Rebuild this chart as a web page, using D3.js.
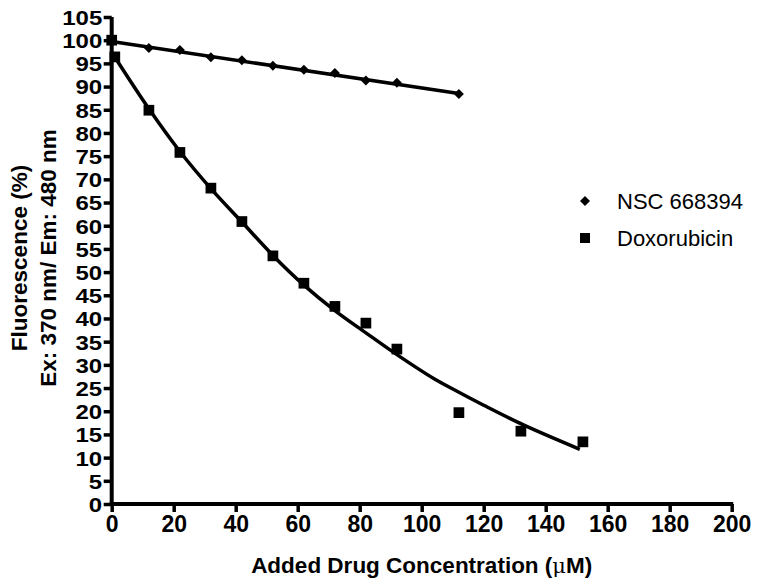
<!DOCTYPE html>
<html>
<head>
<meta charset="utf-8">
<script src="https://cdn.jsdelivr.net/npm/d3@7/dist/d3.min.js"></script>
<style>
  html, body { margin: 0; padding: 0; background: #fff; }
  svg { display: block; }
  text { font-family: "Liberation Sans", Arial, Helvetica, sans-serif; fill: #000; }
</style>
</head>
<body>
<svg id="chart" width="762" height="588"></svg>
<script>
// ---- Data ----
const seriesNames = ["NSC 668394", "Doxorubicin"];

const nscX = [0, 12, 22, 32, 42, 52, 62, 72, 82, 92, 112];
const nscY = [99.9, 98.3, 97.9, 96.3, 95.7, 94.5, 93.6, 92.9, 91.3, 90.8, 88.4];

const doxX = [0, 1, 12, 22, 32, 42, 52, 62, 72, 82, 92, 112, 132, 152];
const doxY = [100, 96.4, 84.9, 75.8, 68.1, 60.9, 53.5, 47.6, 42.6, 39.0, 33.4, 19.7, 15.7, 13.4];

// fitted curves as drawn in the reference
const nscFitX = [0, 112];
const nscFitY = [99.7, 88.5];
const doxFitX = [0, 12, 22, 32, 42, 52, 62, 72, 82, 92, 104, 112, 120, 133, 151];
const doxFitY = [97.4, 85.2, 76.0, 68.0, 60.8, 53.6, 47.2, 41.7, 36.9, 32.2, 27.0, 24.1, 21.3, 17.0, 11.8];

const xTicks = [0, 20, 40, 60, 80, 100, 120, 140, 160, 180, 200];
const yTicks = [0, 5, 10, 15, 20, 25, 30, 35, 40, 45, 50, 55, 60, 65, 70, 75, 80, 85, 90, 95, 100, 105];

const xTitle = "Added Drug Concentration (";
const xTitleUnit = "\u03BC";
const xTitleEnd = "M)";
const yTitle1 = "Fluorescence (%)";
const yTitle2 = "Ex: 370 nm/ Em: 480 nm";

// ---- Drawing ----
const svg = d3.select("#chart");
const x = d3.scaleLinear().domain([0, 200]).range([111.7, 731.7]);
const y = d3.scaleLinear().domain([0, 105]).range([504, 17]);

// Y axis
const yAxis = svg.append("g")
  .attr("transform", `translate(${x(0)},0)`)
  .call(d3.axisLeft(y).tickValues(yTicks).tickSize(8).tickPadding(1).tickSizeOuter(0));
// X axis
const xAxis = svg.append("g")
  .attr("transform", `translate(0,${y(0)})`)
  .call(d3.axisBottom(x).tickValues(xTicks).tickSize(8).tickPadding(4).tickSizeOuter(0));

[yAxis, xAxis].forEach(g => {
  g.select(".domain").attr("stroke", "#000").attr("stroke-width", 4);
  g.selectAll(".tick line").attr("stroke", "#000").attr("stroke-width", 3.5);
  g.selectAll(".tick text")
    .style("font-family", "'Liberation Sans', Arial, sans-serif")
    .style("font-weight", "bold")
    .attr("fill", "#000");
});
xAxis.selectAll(".tick text").style("font-size", "23px");
const ySX = 1.17;
yAxis.selectAll(".tick text")
  .style("font-size", "20.5px")
  .attr("dy", "0.36em")
  .attr("x", -9.5 / ySX)
  .attr("transform", `scale(${ySX},1)`);
yAxis.select(".domain").attr("d", `M0,${y(105)}V${y(0) + 2}`);
xAxis.select(".domain").attr("d", `M${x(0) - 2},0H${x(200) + 1.5}`);

// Lines
const line = d3.line().x(d => x(d[0])).y(d => y(d[1]));
svg.append("path")
  .datum(nscFitX.map((v, i) => [v, nscFitY[i]]))
  .attr("d", line)
  .attr("fill", "none").attr("stroke", "#000").attr("stroke-width", 3.5);
svg.append("path")
  .datum(doxFitX.map((v, i) => [v, doxFitY[i]]))
  .attr("d", d3.line().x(d => x(d[0])).y(d => y(d[1])).curve(d3.curveCatmullRom))
  .attr("fill", "none").attr("stroke", "#000").attr("stroke-width", 3.5);

// Markers
const diamond = d3.symbol().type(d3.symbolSquare).size(50);
const square = d3.symbol().type(d3.symbolSquare).size(115);
svg.append("g").selectAll("path")
  .data(nscX.map((v, i) => [v, nscY[i]]))
  .join("path")
  .attr("transform", d => `translate(${x(d[0])},${y(d[1])}) rotate(45)`)
  .attr("d", diamond)
  .attr("fill", "#000");
svg.append("g").selectAll("path")
  .data(doxX.map((v, i) => [v, doxY[i]]))
  .join("path")
  .attr("transform", d => `translate(${x(d[0])},${y(d[1])})`)
  .attr("d", square)
  .attr("fill", "#000");

// Legend
const legend = svg.append("g");
legend.append("path")
  .attr("transform", "translate(585,201) rotate(45)")
  .attr("d", diamond)
  .attr("fill", "#000");
legend.append("path")
  .attr("transform", "translate(585,238)")
  .attr("d", d3.symbol().type(d3.symbolSquare).size(100))
  .attr("fill", "#000");
legend.selectAll("text.lg")
  .data(seriesNames)
  .join("text")
  .attr("class", "lg")
  .attr("x", 617)
  .attr("y", (d, i) => 209 + i * 37)
  .style("font-size", "22px")
  .text(d => d);

// Axis titles
const xt = svg.append("text")
  .attr("x", (x(0) + x(200)) / 2)
  .attr("y", 573)
  .attr("text-anchor", "middle")
  .style("font-weight", "bold")
  .style("font-size", "22.5px");
xt.append("tspan").text(xTitle);
xt.append("tspan").style("font-weight", "normal").style("font-family", "'DejaVu Serif', serif").style("font-size", "21px").text(xTitleUnit);
xt.append("tspan").text(xTitleEnd);

const cy = 258;
svg.append("text")
  .attr("transform", `translate(27,${cy}) rotate(-90)`)
  .attr("text-anchor", "middle")
  .style("font-weight", "bold")
  .style("font-size", "22.5px")
  .text(yTitle1);
svg.append("text")
  .attr("transform", `translate(56,${cy}) rotate(-90)`)
  .attr("text-anchor", "middle")
  .style("font-weight", "bold")
  .style("font-size", "22.5px")
  .text(yTitle2);
</script>
</body>
</html>
